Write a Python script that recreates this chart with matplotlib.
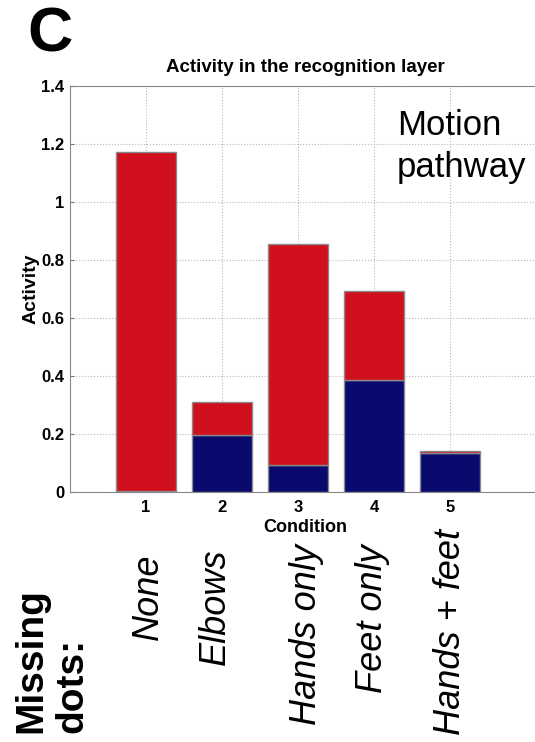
import matplotlib
matplotlib.use('Agg')
import matplotlib.pyplot as plt

# values
conditions = [1, 2, 3, 4, 5]
blue_part = [0.005, 0.197, 0.093, 0.386, 0.135]
totals = [1.172, 0.31, 0.855, 0.693, 0.142]
red_part = [t - b for t, b in zip(totals, blue_part)]
yticks = [0, 0.2, 0.4, 0.6, 0.8, 1, 1.2, 1.4]
ytick_labels = ['0', '0.2', '0.4', '0.6', '0.8', '1', '1.2', '1.4']
missing = ['None', 'Elbows', 'Hands only', 'Feet only', 'Hands + feet']

RED = '#d0101c'
NAVY = '#0a0a6e'
EDGE = '#8a8a8a'
FONT = ['Liberation Sans', 'DejaVu Sans']

plt.rcParams['font.family'] = FONT

fig = plt.figure(figsize=(5.35, 7.42), dpi=100)
ax = fig.add_axes([70 / 535, 250 / 742, 470 / 535, 406 / 742])

ax.bar(conditions, blue_part, width=0.8, color=NAVY, edgecolor=EDGE, linewidth=1, zorder=3)
ax.bar(conditions, red_part, bottom=blue_part, width=0.8, color=RED, edgecolor=EDGE,
       linewidth=1, zorder=3)

ax.set_xlim(0, 470 / 76)
ax.set_ylim(0, 1.4)
ax.set_xticks(conditions)
ax.set_xticklabels([str(c) for c in conditions], fontsize=12, fontweight='bold')
ax.set_yticks(yticks)
ax.set_yticklabels(ytick_labels, fontsize=12, fontweight='bold')
ax.tick_params(direction='in', length=3, color='#777777', pad=4)
ax.tick_params(axis='x', pad=6)
ax.grid(True, linestyle=':', color='#b8b8b8', linewidth=0.8, zorder=0)
for s in ['left', 'top', 'bottom']:
    ax.spines[s].set_color('#888888')
ax.spines['right'].set_visible(False)

ax.set_title('Activity in the recognition layer', fontsize=13.5, fontweight='bold', pad=10)
ax.set_xlabel('Condition', fontsize=13, fontweight='bold', labelpad=3)
ax.set_ylabel('Activity', fontsize=14, fontweight='bold', labelpad=1)

ax.text(4.3, 1.19, 'Motion\npathway', fontsize=25, ha='left', va='center', linespacing=1.35)

fig.text(27 / 535, 1 - 35 / 742, 'C', fontsize=45, fontweight='bold', ha='left', va='center')

fig.text(13 / 535, 1 - 733 / 742, 'Missing\ndots:', fontsize=28, fontweight='bold', rotation=90,
         ha='left', va='bottom', multialignment='left', linespacing=1.2)

# italic condition names below the axis
label_x = [148, 215, 307, 373, 450]
label_bottom = [640, 665, 725, 693, 735]
for name, lx, lb in zip(missing, label_x, label_bottom):
    fig.text(lx / 535, 1 - lb / 742, name, fontsize=26, style='italic', rotation=90,
             ha='center', va='bottom')

fig.savefig('out.png', dpi=100)
